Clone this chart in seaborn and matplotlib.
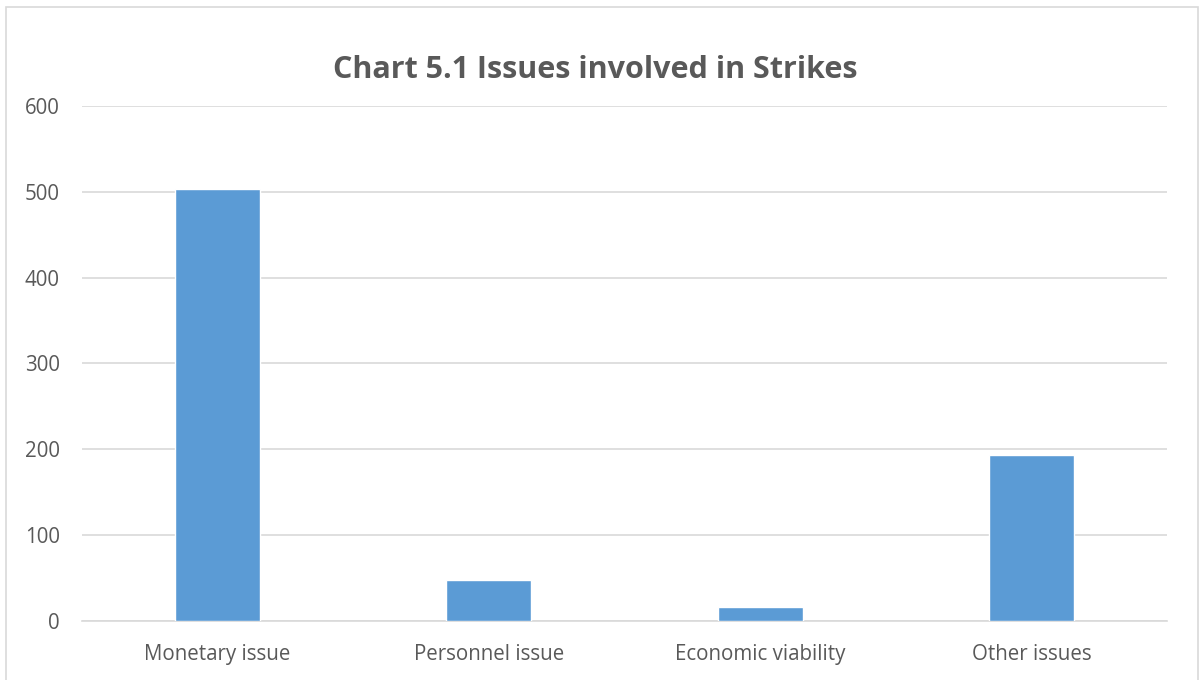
import matplotlib
matplotlib.use("Agg")
import matplotlib.pyplot as plt
import seaborn as sns
import pandas as pd
from matplotlib.patches import Rectangle

categories = ["Monetary issue", "Personnel issue", "Economic viability", "Other issues"]
values = [503, 47, 16, 193]
yticks = [0, 100, 200, 300, 400, 500, 600]
title = "Chart 5.1 Issues involved in Strikes"

sns.set_theme(style="white")
plt.rcParams['font.family'] = ['Open Sans', 'DejaVu Sans']

df = pd.DataFrame({"category": categories, "value": values})

fig = plt.figure(figsize=(12.04, 6.8), dpi=100)
ax = fig.add_axes([82/1204, 1 - 620.7/680, (1167-82)/1204, (620.7-106)/680])

sns.barplot(data=df, x="category", y="value", color="#5B9BD5", width=0.314,
            saturation=1, ax=ax, zorder=3)

ax.set_ylim(0, 600)
ax.set_xlim(-0.5, 3.5)
ax.set_yticks(yticks)
ax.yaxis.grid(True, color="#D9D9D9", linewidth=1.2, zorder=0)
ax.set_axisbelow(True)
for s in ["top", "right", "left"]:
    ax.spines[s].set_visible(False)
ax.spines["bottom"].set_color("#D9D9D9")
ax.spines["bottom"].set_linewidth(1.2)
ax.set_xlabel("")
ax.set_ylabel("")
ax.tick_params(axis="both", length=0, labelsize=14.8, labelcolor="#595959")
ax.tick_params(axis="y", pad=16)
ax.tick_params(axis="x", pad=17)

fig.text(595/1204, 1 - 70/680, title, ha="center", va="center",
         fontsize=22, fontweight="bold", color="#595959")

fig.patches.append(Rectangle((6/1204, -0.05), (1198-6)/1204, 1.05 - 7/680,
                             transform=fig.transFigure, fill=False,
                             edgecolor="#D9D9D9", linewidth=1.2))

fig.savefig("out.png", dpi=100, facecolor="white")
